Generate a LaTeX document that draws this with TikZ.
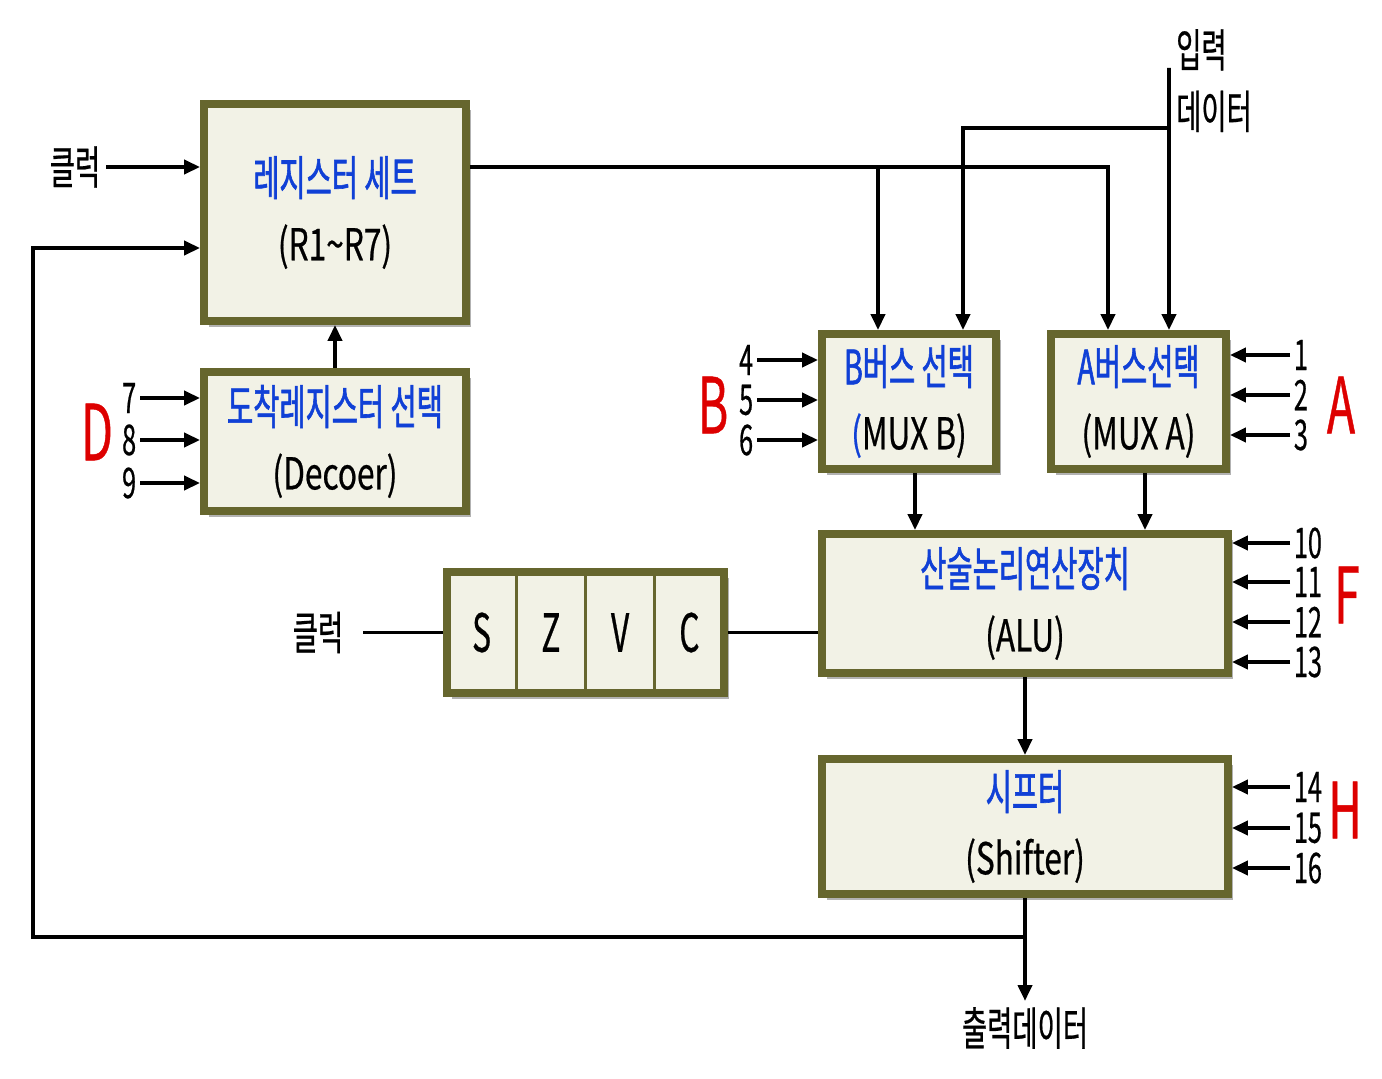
\documentclass[tikz,border=0pt]{standalone}
\usepackage{fontspec}
\setmainfont{Noto Sans CJK KR}[FakeStretch=0.72, FakeBold=0.5]
\newfontfamily\hfont{Noto Sans CJK KR}[FakeStretch=0.6, FakeBold=0.5]
\newfontfamily\kfont{Noto Sans CJK KR}[FakeStretch=0.6, FakeBold=1.2]
\usetikzlibrary{arrows.meta, positioning, calc, shadows}
\definecolor{boxfill}{RGB}{242,242,230}
\definecolor{boxedge}{RGB}{102,102,46}
\definecolor{txtblue}{RGB}{16,64,214}
\definecolor{txtred}{RGB}{221,0,0}
\newcommand{\kname}[1]{{\kfont\fontsize{27}{37}\selectfont\color{txtblue}#1}}

\begin{document}
\begin{tikzpicture}[
    x=0.02cm, y=-0.02cm,
    >={Triangle[length=0.32cm, width=0.28cm]},
    arr/.style={->, line width=2.2pt},
    wire/.style={line width=2.2pt},
    blk/.style={draw=boxedge, line width=4.5pt, fill=boxfill, align=center, inner sep=0pt,
        font=\fontsize{25}{37}\selectfont,
        drop shadow={shadow xshift=0.1cm, shadow yshift=-0.12cm, fill=black, opacity=0.3}},
    cell/.style={draw=boxedge, line width=1.5pt, minimum width=1.385cm, minimum height=2.42cm,
        inner sep=0pt, font=\hfont\fontsize{30}{30}\selectfont},
    lbl/.style={font=\hfont\fontsize{26}{35}\selectfont},
    num/.style={font=\hfont\fontsize{24}{24}\selectfont, inner xsep=2pt, inner ysep=0.5pt},
    grp/.style={font=\hfont\fontsize{44}{44}\selectfont, text=txtred},
]
\useasboundingbox (0,0) rectangle (1382,1078);
% === Blocks ===
\node[blk, minimum width=5.24cm, minimum height=4.34cm] (reg) at (335,212.5)
    {\kname{레지스터 세트}\\(R1\textasciitilde R7)};
\node[blk, minimum width=5.24cm, minimum height=2.78cm] (dec) at (335,441.5)
    {\kname{도착레지스터 선택}\\(Decoer)};
\node[blk, minimum width=3.48cm, minimum height=2.70cm] (muxB) at (909,401.5)
    {\kname{B버스 선택}\\{\color{txtblue}(}MUX B)};
\node[blk, minimum width=3.50cm, minimum height=2.70cm] (muxA) at (1138.5,401.5)
    {\kname{A버스선택}\\(MUX A)};
\node[blk, minimum width=8.12cm, minimum height=2.78cm] (alu) at (1025,603.5)
    {\kname{산술논리연산장치}\\(ALU)};
\node[blk, minimum width=8.12cm, minimum height=2.70cm] (shift) at (1025,826.5)
    {\kname{시프터}\\(Shifter)};
% flag register
\node[blk, minimum width=5.54cm, minimum height=2.42cm] (flags) at (585.5,632.5) {};
\foreach \i/\v/\cx in {1/S/481.6, 2/Z/550.9, 3/V/620.1, 4/C/689.4} {
    \node[cell] (f\i) at (\cx,632.5) {\v};
}
% === Control inputs ===
\node[grp] (gD) at (97,432) {D};
\foreach \n/\y in {7/398, 8/440, 9/483} {
    \node[num, anchor=east] (n\n) at (140,\y) {\n};
    \draw[arr] (n\n.east) -- (n\n.east -| dec.west);
}
\node[grp] (gB) at (713,405) {B};
\foreach \n/\y in {4/360, 5/400, 6/440} {
    \node[num, anchor=east] (n\n) at (757,\y) {\n};
    \draw[arr] (n\n.east) -- (n\n.east -| muxB.west);
}
\node[grp] (gA) at (1341,405) {A};
\foreach \n/\y in {1/355, 2/395, 3/435} {
    \node[num, anchor=west] (n\n) at (1290,\y) {\n};
    \draw[arr] (n\n.west) -- (n\n.west -| muxA.east);
}
\node[grp] (gF) at (1347,595) {F};
\foreach \n/\y in {10/543, 11/582, 12/622, 13/662} {
    \node[num, anchor=west] (n\n) at (1290,\y) {\n};
    \draw[arr] (n\n.west) -- (n\n.west -| alu.east);
}
\node[grp] (gH) at (1345,810) {H};
\foreach \n/\y in {14/787, 15/828, 16/868} {
    \node[num, anchor=west] (n\n) at (1290,\y) {\n};
    \draw[arr] (n\n.west) -- (n\n.west -| shift.east);
}
% === Clocks ===
\node[lbl] (clk1) at (75,167) {클럭};
\draw[arr] (clk1.east) -- (clk1.east -| reg.west);
\node[lbl] (clk2) at (318,632.5) {클럭};
\draw[wire, shorten <=0.28cm] (clk2.east) -- (flags.west);
\draw[wire] (flags.east) -- (flags.east -| alu.west);
% === Data paths ===
\draw[arr] (dec.north) -- (reg.south);
\coordinate (rout) at ($(reg.east)+(0,-45.5)$);
\coordinate (bin1) at ($(muxB.north)+(-31,0)$);
\coordinate (bin2) at ($(muxB.north)+(54,0)$);
\coordinate (ain1) at ($(muxA.north)+(-30.5,0)$);
\coordinate (ain2) at ($(muxA.north)+(30.5,0)$);
\draw[arr] (rout) -| (ain1);
\draw[arr] (rout -| bin1) -- (bin1);
% input data
\node[lbl, align=left, anchor=north west] (din) at (1170,23) {입력\\데이터};
\coordinate (dtop) at (1169,68);
\coordinate (dbr) at (1169,128);
\draw[arr] (dtop) -- (ain2);
\draw[arr] (dbr) -| (bin2);
\coordinate (bout) at ($(muxB.south)+(6,0)$);
\coordinate (aout) at ($(muxA.south)+(6.5,0)$);
\draw[arr] (bout) -- (bout |- alu.north);
\draw[arr] (aout) -- (aout |- alu.north);
\draw[arr] (alu.south) -- (shift.north);
% output and feedback
\node[lbl] (dout) at (1025,1028) {출력데이터};
\draw[arr] (shift.south) -- (dout.north);
\coordinate (jn) at (shift.south |- 0,937);
\coordinate (fbbot) at (33,937);
\coordinate (fbtop) at (33,248);
\draw[arr] (jn) -- (fbbot) -- (fbtop) -- (fbtop -| reg.west);
\end{tikzpicture}
\end{document}
